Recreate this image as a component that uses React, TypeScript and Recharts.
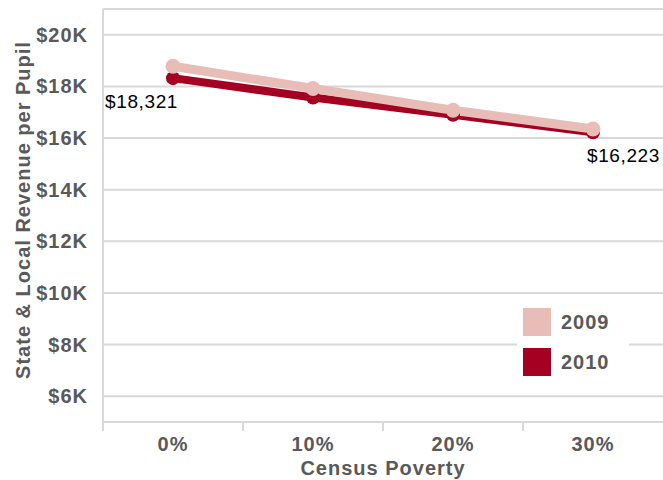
import { LineChart, Line, XAxis, YAxis, CartesianGrid } from 'recharts';

const categories = ['0%', '10%', '20%', '30%'];
const revenue2009 = [18780, 17920, 17080, 16350];
const revenue2010 = [18321, 17570, 16900, 16223];
const yTicks = [6000, 8000, 10000, 12000, 14000, 16000, 18000, 20000, 21000];

const data = categories.map((c, i) => ({ poverty: c, y2009: revenue2009[i], y2010: revenue2010[i] }));

const PINK = '#e8bdb8';
const RED = '#a50021';
const GRID = '#d9d9d9';
const TEXT = '#595959';
const FONT = '"Liberation Sans", Arial, sans-serif';

const BAND = 140;

const XTick = (props: any) => {
  const { x, y, payload } = props;
  return (
    <g>
      <line x1={x - BAND / 2} x2={x - BAND / 2} y1={y} y2={y + 9} stroke={GRID} strokeWidth={2} />
      <text x={x} y={y + 22} textAnchor="middle" dominantBaseline="central" fill={TEXT} fontSize={20} fontWeight="bold" letterSpacing={1} fontFamily={FONT}>
        {payload.value}
      </text>
    </g>
  );
};

const YTick = (props: any) => {
  const { y, payload } = props;
  if (payload.value > 20000) return null;
  return (
    <text x={88} y={y} textAnchor="end" dominantBaseline="central" fill={TEXT} fontSize={20} fontWeight="bold" letterSpacing={1} fontFamily={FONT}>
      {`$${payload.value / 1000}K`}
    </text>
  );
};

const EndLabel = (props: any) => {
  const { x, y, index, value } = props;
  if (index !== 0 && index !== categories.length - 1) return null;
  const first = index === 0;
  return (
    <text x={first ? x + 5 : x - 6} y={y + 23} textAnchor={first ? 'end' : 'start'} dominantBaseline="central" fill="#000" fontSize={19} letterSpacing={0.6} fontFamily={FONT}>
      {`$${value.toLocaleString('en-US')}`}
    </text>
  );
};

const XTitle = () => (
  <text x={383} y={468} textAnchor="middle" dominantBaseline="central" fill={TEXT} fontSize={20} fontWeight="bold" letterSpacing={1} fontFamily={FONT}>
    Census Poverty
  </text>
);

const YTitle = () => (
  <text x={23} y={210} transform="rotate(-90 23 210)" textAnchor="middle" dominantBaseline="central" fill={TEXT} fontSize={20} fontWeight="bold" letterSpacing={1} fontFamily={FONT}>
    State &amp; Local Revenue per Pupil
  </text>
);

const legendItems = [{ name: '2009', color: PINK }, { name: '2010', color: RED }];

const LegendBox = () => (
  <div style={{ position: 'absolute', left: 517, top: 302, width: 112, height: 80, background: '#fff', fontFamily: FONT }}>
    {legendItems.map((e, i) => (
      <div key={e.name} style={{ position: 'absolute', left: 6, top: 6 + i * 40, display: 'flex', alignItems: 'center', height: 28 }}>
        <div style={{ width: 28, height: 28, background: e.color }} />
        <span style={{ marginLeft: 10, fontSize: 20, fontWeight: 'bold', letterSpacing: 1, color: TEXT }}>{e.name}</span>
      </div>
    ))}
  </div>
);

export default function App() {
  return (
    <div style={{ position: 'absolute', left: 0, top: 0, width: 663, height: 480, background: '#fff' }}>
      <LineChart width={663} height={480} data={data} margin={{ top: 9, right: 0, bottom: 0, left: 0 }}>
        <CartesianGrid vertical={false} stroke={GRID} strokeWidth={2} />
        <XAxis
          dataKey="poverty"
          height={58}
          padding={{ left: BAND / 2, right: BAND / 2 }}
          stroke={GRID}
          strokeWidth={2}
          tickLine={false}
          tickSize={0}
          tickMargin={0}
          tick={<XTick />}
          label={{ content: () => <XTitle /> }}
        />
        <YAxis
          width={103}
          domain={[5000, 21000]}
          ticks={yTicks}
          interval={0}
          stroke={GRID}
          strokeWidth={2}
          tickLine={false}
          tick={<YTick />}
          label={{ content: () => <YTitle /> }}
        />
        <Line dataKey="y2010" name="2010" stroke={RED} strokeWidth={8} dot={{ r: 7, fill: RED, stroke: RED, strokeWidth: 0 }} label={<EndLabel />} isAnimationActive={false} />
        <Line dataKey="y2009" name="2009" stroke={PINK} strokeWidth={9} dot={{ r: 7.5, fill: PINK, stroke: PINK, strokeWidth: 0 }} isAnimationActive={false} />
      </LineChart>
      <LegendBox />
    </div>
  );
}
